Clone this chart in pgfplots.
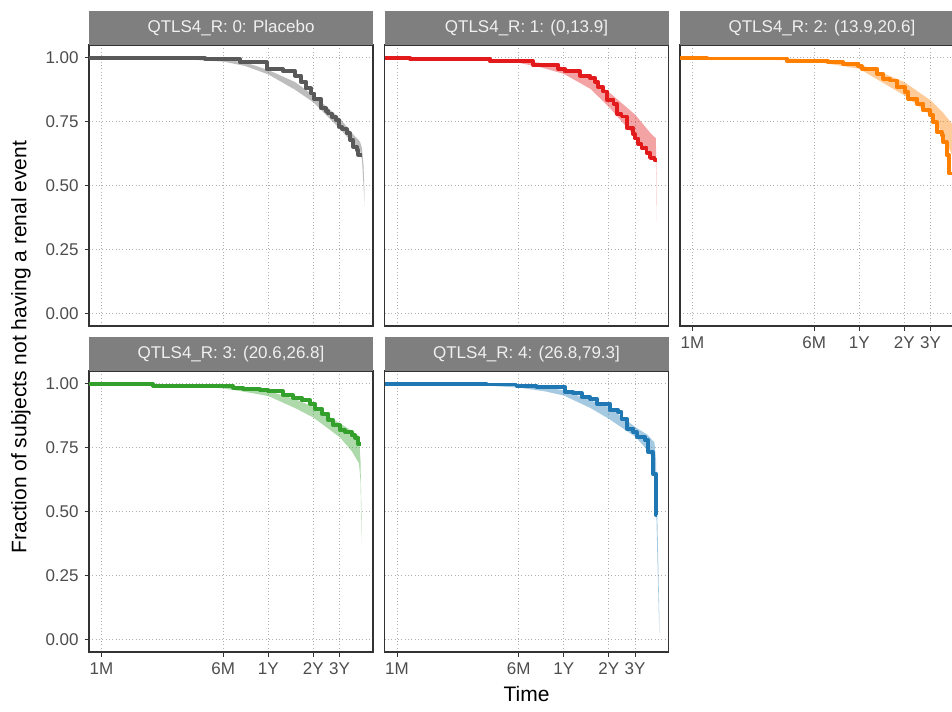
\documentclass[border=0pt]{standalone}
\usepackage{fontspec}
\setmainfont{Liberation Sans}
\usepackage{pgfplots}
\pgfplotsset{compat=1.18}
\definecolor{cgrey}{HTML}{595959}
\definecolor{cred}{HTML}{E31A1C}
\definecolor{corange}{HTML}{FF7F00}
\definecolor{cgreen}{HTML}{33A02C}
\definecolor{cblue}{HTML}{1F78B4}
\definecolor{stripc}{HTML}{7F7F7F}
\definecolor{striptext}{HTML}{F0F0F0}
\definecolor{tickc}{HTML}{4D4D4D}
\definecolor{framec}{HTML}{333333}
\definecolor{gridc}{HTML}{B0B0B0}
\pgfplotsset{
 /pgfplots/mypanel/.style={
  scale only axis, width=170.4pt, height=168.6pt,
  anchor=south west,
  xmin=23.08, xmax=1832.4, ymin=-0.05, ymax=1.05,
  xtick={28,182.625,365.25,730.5,1095.75},
  xticklabels={1M,6M,1Y,2Y,3Y},
  ytick={0,0.25,0.5,0.75,1},
  yticklabels={0.00,0.25,0.50,0.75,1.00},
  xminorticks=false, yminorticks=false,
  grid=major,
  major grid style={draw=gridc, line width=0.45pt, dash pattern=on 0.6pt off 1.4pt},
  axis line style={draw=framec, line width=0.75pt},
  tick align=outside, xtick pos=bottom, ytick pos=left,
  major tick length=2.7pt,
  tick style={draw=framec, line width=0.6pt},
  ticklabel style={font=\fontsize{10.2}{12}\selectfont, text=tickc},
  /pgf/number format/assume math mode=true,
 },
 /pgfplots/mynox/.style={xticklabels={}, xtick style={draw=none}},
 /pgfplots/mynoy/.style={yticklabels={}, ytick style={draw=none}},
 /pgfplots/mykm/.style={const plot, line width=2.35pt, line join=round, mark=none},
 /pgfplots/myband/.style={draw=none, fill=#1, fill opacity=0.4, mark=none},
}
\newcommand{\strip}[3]{%
 \fill[stripc] (#1,#2) rectangle ++(170.4pt,20.4pt);
 \node[font=\fontsize{10.2}{12}\selectfont, text=striptext] at ([xshift=85.2pt,yshift=10.2pt]#1,#2) {#3};}
\begin{document}
\begin{tikzpicture}
\useasboundingbox (0,0) rectangle (571.2pt,426.6pt);
\clip (0,0) rectangle (571.2pt,426.6pt);
% ---------- Panel 1 : Placebo
\begin{axis}[xmode=log, mypanel, mynox, at={(53.4pt,231pt)}]
\addplot[myband=cgrey] coordinates {(23.08,1.0) (93.75,1.0) (182.6,0.993) (255.1,0.982) (365.25,0.952) (551.0,0.905) (730.5,0.854) (1102.1,0.762) (1325.8,0.705) (1499.7,0.672) (1546.6,0.645) (1582.8,0.58) (1607.4,0.47)
 (1607.4,0.42) (1582.8,0.50) (1546.6,0.60) (1499.7,0.638) (1325.8,0.668) (1102.1,0.722) (730.5,0.826) (551.0,0.875) (365.25,0.935) (255.1,0.968) (182.6,0.985) (93.75,0.995) (23.08,1.0)};
\addplot[mykm, draw=cgrey] coordinates {(23.08,1.000) (137.8,0.995) (236.2,0.982) (356.4,0.955) (458.1,0.948) (551.0,0.930) (604.4,0.906) (649.8,0.880) (705.1,0.860) (741.9,0.838) (822.6,0.802) (888.5,0.790) (920.5,0.782) (970.0,0.769) (1036.2,0.756) (1085.3,0.730) (1136.5,0.720) (1221.9,0.704) (1285.6,0.678) (1352.7,0.652) (1425.4,0.639) (1460.9,0.620) (1553.8,0.620)};
\end{axis}
% ---------- Panel 2
\begin{axis}[xmode=log, mypanel, mynox, mynoy, at={(230.7pt,231pt)}]
\addplot[myband=cred] coordinates {(23.08,1.0) (93.75,0.997) (182.6,0.990) (255.1,0.980) (365.25,0.963) (551.0,0.918) (730.5,0.866) (1102.1,0.776) (1388.6,0.705) (1506.6,0.685) (1518.3,0.60) (1534.7,0.42)
 (1534.7,0.36) (1518.3,0.54) (1506.6,0.598) (1388.6,0.618) (1102.1,0.690) (730.5,0.808) (551.0,0.878) (365.25,0.937) (255.1,0.963) (182.6,0.980) (93.75,0.990) (23.08,1.0)};
\addplot[mykm, draw=cred] coordinates {(23.08,1.000) (34.19,0.995) (117.2,0.986) (228.4,0.972) (335.6,0.956) (372.1,0.947) (468.8,0.930) (546.7,0.920) (590.6,0.905) (621.4,0.885) (671.2,0.868) (713.8,0.835) (785.4,0.820) (825.2,0.780) (888.5,0.770) (962.5,0.725) (1065.4,0.700) (1093.6,0.684) (1150.6,0.662) (1208.8,0.648) (1305.6,0.628) (1378.9,0.608) (1476.8,0.600) (1546.6,0.600)};
\end{axis}
% ---------- Panel 3
\begin{axis}[xmode=log, mypanel, mynoy, at={(408pt,231pt)}]
\addplot[myband=corange] coordinates {(23.08,1.0) (127.6,0.997) (182.6,0.993) (255.1,0.985) (365.25,0.975) (551.0,0.935) (730.5,0.905) (1097.0,0.833) (1325.8,0.785) (1523.0,0.742) (1570.6,0.62) (1607.4,0.45)
 (1607.4,0.35) (1570.6,0.45) (1523.0,0.62) (1325.8,0.70) (1097.0,0.775) (730.5,0.853) (551.0,0.895) (365.25,0.957) (255.1,0.972) (182.6,0.985) (127.6,0.990) (23.08,1.0)};
\addplot[mykm, draw=corange] coordinates {(23.08,1.000) (34.83,0.997) (119.4,0.987) (226.6,0.982) (285.5,0.977) (359.7,0.967) (379.0,0.957) (477.5,0.937) (528.5,0.918) (586.1,0.911) (649.8,0.885) (738.5,0.866) (777.0,0.840) (884.4,0.820) (979.0,0.794) (1085.3,0.775) (1141.8,0.748) (1203.2,0.709) (1299.5,0.696) (1332.0,0.670) (1403.7,0.618) (1460.9,0.547) (1553.8,0.547)};
\end{axis}
% ---------- Panel 4
\begin{axis}[xmode=log, mypanel, at={(53.4pt,35.4pt)}]
\addplot[myband=cgreen] coordinates {(23.08,1.0) (109.3,0.997) (182.6,0.992) (275.5,0.980) (365.25,0.972) (551.0,0.940) (730.5,0.910) (1102.1,0.845) (1325.8,0.815) (1476.8,0.795) (1511.3,0.70) (1539.5,0.45)
 (1539.5,0.375) (1511.3,0.62) (1476.8,0.688) (1325.8,0.735) (1102.1,0.790) (730.5,0.868) (551.0,0.905) (365.25,0.952) (275.5,0.965) (182.6,0.982) (109.3,0.990) (23.08,1.0)};
\addplot[mykm, draw=cgreen] coordinates {(23.08,1.000) (61.84,0.993) (121.3,0.990) (213.1,0.985) (248.6,0.978) (321.4,0.974) (365.25,0.970) (460.2,0.955) (534.3,0.945) (611.0,0.935) (694.3,0.922) (749.9,0.902) (831.5,0.883) (920.5,0.857) (993.9,0.837) (1102.1,0.818) (1190.3,0.811) (1319.7,0.798) (1388.6,0.789) (1460.9,0.763) (1516.0,0.763)};
\end{axis}
% ---------- Panel 5
\begin{axis}[xmode=log, mypanel, mynoy, at={(230.7pt,35.4pt)}]
\addplot[myband=cblue] coordinates {(23.08,1.0) (109.3,0.998) (182.6,0.993) (275.5,0.985) (365.25,0.975) (551.0,0.935) (730.5,0.909) (1102.1,0.830) (1325.8,0.800) (1476.8,0.770) (1511.3,0.70) (1546.6,0.45) (1590.1,0.10)
 (1590.1,0.02) (1546.6,0.30) (1511.3,0.55) (1476.8,0.700) (1325.8,0.740) (1102.1,0.792) (730.5,0.863) (551.0,0.905) (365.25,0.954) (275.5,0.970) (182.6,0.985) (109.3,0.993) (23.08,1.0)};
\addplot[mykm, draw=cblue] coordinates {(23.08,1.000) (111.1,0.997) (176.3,0.993) (239.9,0.987) (372.1,0.967) (422.8,0.963) (481.2,0.948) (546.7,0.941) (606.3,0.922) (744.2,0.898) (845.7,0.889) (888.5,0.863) (962.5,0.824) (1065.4,0.811) (1122.6,0.792) (1275.7,0.779) (1342.3,0.733) (1436.4,0.648) (1511.3,0.486) (1541.9,0.486)};
\end{axis}
% ---------- strips
\strip{53.4pt}{399.6pt}{QTLS4\_R: 0: Placebo}
\strip{230.7pt}{399.6pt}{QTLS4\_R: 1: (0,13.9]}
\strip{408pt}{399.6pt}{QTLS4\_R: 2: (13.9,20.6]}
\strip{53.4pt}{204pt}{QTLS4\_R: 3: (20.6,26.8]}
\strip{230.7pt}{204pt}{QTLS4\_R: 4: (26.8,79.3]}
% ---------- axis titles
\node[rotate=90, font=\fontsize{12.6}{15}\selectfont] at (12.6pt,218.4pt) {Fraction of subjects not having a renal event};
\node[font=\fontsize{12.6}{15}\selectfont] at (315.9pt,10.5pt) {Time};
\end{tikzpicture}
\end{document}
